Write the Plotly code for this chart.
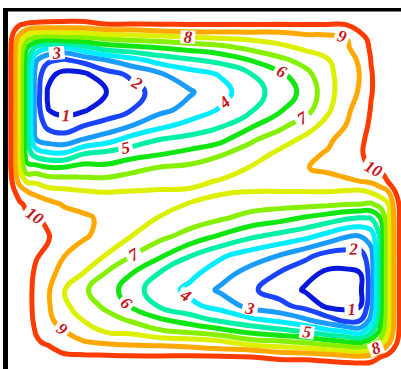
import plotly.graph_objects as go

# grid node positions (pixels of the 401x369 picture)
X_POS = [8, 14, 20, 27, 36, 48, 64, 84, 106, 130, 160, 190, 220, 250, 280, 305, 328, 346, 360, 371, 380, 388, 395, 400, 405]
Y_POS = [11, 17, 24, 31, 39, 48, 60, 74, 92, 110, 126, 140, 154, 168, 181, 192, 204, 218, 236, 256, 274, 290, 306, 320, 332, 342, 350, 357, 364, 373]

# field values, one list per x column (top -> bottom)
COL_008 = [10.6] * 30
COL_014 = [10.6, 10.45, 10.25, 10.02, 9.6, 9.4, 9.33, 9.33, 9.33, 9.33, 9.33, 9.33, 9.33, 9.35, 9.7, 10.1, 10.25, 10.3, 10.35, 10.35, 10.35, 10.35, 10.35, 10.35, 10.35, 10.38, 10.4, 10.45, 10.5, 10.6]
COL_020 = [10.6, 10.4, 10.1, 9.4, 8.4, 7.7, 7.5, 7.43, 7.43, 7.43, 7.43, 7.43, 7.45, 7.8, 8.55, 9.6, 10.1, 10.25, 10.3, 10.3, 10.28, 10.28, 10.28, 10.28, 10.3, 10.32, 10.36, 10.4, 10.48, 10.6]
COL_027 = [10.6, 10.35, 9.95, 8.7, 7.2, 6.02, 5.35, 5.17, 5.17, 5.17, 5.17, 5.2, 5.45, 6.3, 7.85, 9.05, 9.85, 10.15, 10.2, 10.2, 10.15, 10.15, 10.15, 10.15, 10.18, 10.22, 10.28, 10.32, 10.42, 10.6]
COL_036 = [10.6, 10.3, 9.9, 8.3, 6.6, 4.7, 3.1, 2.6, 2.5, 2.5, 2.55, 3.02, 4.6, 6.4, 7.8, 8.75, 9.6, 10.05, 10.1, 10.03, 9.93, 9.88, 9.88, 9.92, 9.98, 10.05, 10.15, 10.25, 10.4, 10.6]
COL_048 = [10.6, 10.3, 9.85, 8.25, 6.25, 4.02, 2.2, 1.25, 0.9, 1.02, 1.8, 2.6, 4.2, 6.1, 7.5, 8.35, 9.3, 9.85, 10.05, 9.9, 9.45, 9.12, 9.12, 9.2, 9.55, 9.93, 10.1, 10.2, 10.4, 10.6]
COL_064 = [10.6, 10.35, 9.8, 8.35, 6.45, 3.75, 1.9, 0.75, 0.4, 0.7, 1.55, 2.45, 4.15, 6.1, 7.4, 8.25, 8.9, 9.4, 9.55, 9.02, 8.45, 8.05, 8.2, 8.6, 9.05, 9.5, 9.9, 10.1, 10.35, 10.6]
COL_084 = [10.6, 10.35, 9.8, 8.4, 6.6, 4.6, 2.35, 0.85, 0.55, 0.9, 2.02, 3.1, 5.02, 6.4, 7.25, 8.1, 8.7, 9.15, 9.1, 8.55, 7.95, 7.1, 7.5, 7.95, 8.5, 9.05, 9.7, 10.15, 10.35, 10.6]
COL_106 = [10.6, 10.3, 10.02, 8.75, 6.98, 5.4, 2.98, 1.65, 0.95, 1.5, 2.33, 3.6, 5.3, 6.25, 7.27, 7.98, 8.55, 8.8, 8.7, 7.95, 6.9, 6.6, 6.8, 7.4, 7.98, 8.85, 9.55, 10.15, 10.35, 10.6]
COL_130 = [10.6, 10.3, 10.02, 8.8, 7.2, 5.67, 3.6, 2.15, 1.6, 1.95, 2.98, 4.4, 5.6, 6.67, 7.47, 8.05, 8.45, 8.4, 8.05, 7.05, 6.05, 5.45, 5.98, 6.9, 7.85, 8.7, 9.5, 10.1, 10.35, 10.6]
COL_160 = [10.6, 10.3, 10.02, 8.98, 7.4, 5.98, 4.43, 2.9, 2.4, 2.75, 3.77, 5.06, 5.94, 7.08, 7.64, 8.1, 8.2, 7.96, 7.27, 6.13, 4.9, 4.5, 4.9, 6.15, 7.2, 8.6, 9.45, 10.1, 10.35, 10.6]
COL_190 = [10.6, 10.3, 10.05, 9.15, 7.67, 6.29, 4.89, 3.57, 2.9, 3.33, 4.4, 5.33, 6.33, 7.25, 7.8, 8.1, 7.98, 7.5, 6.65, 5.02, 4.25, 3.75, 4.23, 5.5, 6.9, 8.5, 9.3, 10.15, 10.35, 10.6]
COL_220 = [10.6, 10.3, 10.05, 9.14, 7.86, 6.63, 5.3, 4.08, 3.6, 4.1, 4.9, 5.75, 6.9, 7.57, 8.05, 8.1, 7.65, 7.14, 5.9, 4.15, 3.4, 2.85, 3.67, 4.83, 6.43, 8.2, 9.14, 10.1, 10.35, 10.6]
COL_250 = [10.6, 10.3, 10.05, 9.15, 8.1, 7.2, 6.02, 4.95, 4.6, 4.85, 5.85, 6.85, 7.45, 8.05, 8.3, 7.98, 7.43, 6.67, 5.2, 3.5, 2.6, 2.15, 2.7, 4.25, 5.83, 7.4, 9.02, 10.02, 10.35, 10.6]
COL_280 = [10.6, 10.3, 10.05, 9.1, 8.4, 7.7, 6.77, 5.8, 5.4, 5.9, 6.78, 7.56, 8.25, 8.6, 8.4, 7.98, 7.33, 6.33, 4.7, 2.93, 1.9, 1.6, 2.27, 3.75, 5.4, 7.17, 8.6, 9.83, 10.3, 10.6]
COL_305 = [10.6, 10.3, 10.05, 9.25, 8.67, 8.17, 7.36, 6.7, 6.3, 6.6, 7.55, 8.25, 8.75, 8.95, 8.55, 7.98, 7.3, 5.9, 4.3, 2.25, 1.27, 0.9, 1.7, 3.15, 5.02, 6.85, 8.4, 9.8, 10.3, 10.6]
COL_328 = [10.6, 10.3, 10.05, 9.25, 8.76, 8.4, 7.95, 7.7, 7.6, 7.85, 8.37, 8.83, 9.1, 9.2, 8.65, 7.98, 7.2, 5.5, 3.67, 1.57, 0.8, 0.45, 0.8, 2.4, 4.4, 6.4, 8.02, 9.6, 10.25, 10.6]
COL_346 = [10.6, 10.3, 10.05, 9.5, 8.95, 8.8, 8.7, 8.62, 8.65, 8.8, 9.02, 9.4, 9.6, 9.45, 8.85, 7.87, 7.07, 5.14, 3.1, 1.5, 0.8, 0.5, 0.75, 1.7, 4.05, 6.02, 7.75, 9.33, 10.2, 10.6]
COL_360 = [10.6, 10.35, 10.25, 10.05, 9.77, 9.58, 9.1, 9.02, 9.08, 9.39, 9.65, 9.86, 9.94, 9.8, 9.02, 7.8, 7.02, 4.95, 3.02, 1.55, 0.95, 0.8, 0.95, 1.9, 3.6, 5.8, 7.5, 9.17, 10.15, 10.6]
COL_371 = [10.6, 10.4, 10.3, 10.25, 10.15, 10.1, 10.02, 9.95, 9.95, 10.05, 10.15, 10.2, 10.15, 10.02, 9.2, 8.05, 6.9, 5.05, 3.45, 2.6, 2.4, 2.4, 2.6, 3.25, 4.85, 6.5, 8.02, 9.4, 10.2, 10.6]
COL_380 = [10.6, 10.45, 10.4, 10.35, 10.3, 10.3, 10.3, 10.3, 10.3, 10.3, 10.3, 10.3, 10.25, 10.1, 9.6, 8.45, 7.35, 5.95, 5.1, 5.08, 5.08, 5.08, 5.1, 5.5, 6.2, 7.3, 8.6, 9.98, 10.3, 10.6]
COL_388 = [10.6, 10.5, 10.45, 10.4, 10.4, 10.4, 10.4, 10.4, 10.4, 10.4, 10.4, 10.4, 10.4, 10.3, 10.05, 8.9, 7.95, 7.6, 7.5, 7.5, 7.5, 7.5, 7.5, 7.6, 7.9, 8.7, 9.7, 10.2, 10.4, 10.6]
COL_395 = [10.6, 10.5, 10.5, 10.5, 10.5, 10.5, 10.5, 10.5, 10.5, 10.5, 10.5, 10.5, 10.5, 10.5, 10.35, 9.98, 9.5, 9.35, 9.3, 9.3, 9.3, 9.3, 9.3, 9.3, 9.45, 9.8, 10.15, 10.35, 10.45, 10.6]
COL_400 = [10.6, 10.55, 10.55, 10.55, 10.55, 10.55, 10.55, 10.55, 10.55, 10.55, 10.55, 10.55, 10.55, 10.55, 10.55, 10.3, 10.15, 10.1, 10.1, 10.1, 10.1, 10.1, 10.1, 10.1, 10.15, 10.25, 10.38, 10.45, 10.5, 10.6]
COL_405 = [10.6] * 30

Z_COLUMNS = [COL_008, COL_014, COL_020, COL_027, COL_036, COL_048, COL_064, COL_084,
             COL_106, COL_130, COL_160, COL_190, COL_220, COL_250, COL_280, COL_305,
             COL_328, COL_346, COL_360, COL_371, COL_380, COL_388, COL_395, COL_400, COL_405]

LEVELS = [1, 2, 3, 4, 5, 6, 7, 8, 9, 10]
LEVEL_COLORS = ["#0818dc", "#1a44ff", "#1a9cff", "#00ecff", "#00f0a8",
                "#12e612", "#86f000", "#dcf000", "#ffa800", "#ff3c00"]

lo, hi = LEVELS[0], LEVELS[-1]
colorscale = [[(lv - lo) / (hi - lo), c] for lv, c in zip(LEVELS, LEVEL_COLORS)]

fig = go.Figure(go.Contour(
    x=X_POS, y=Y_POS, z=Z_COLUMNS, transpose=True,
    zmin=lo, zmax=hi, autocontour=False,
    contours=dict(start=lo, end=hi, size=1, coloring="lines", showlabels=True,
                  labelfont=dict(family="Liberation Serif", size=17, color="#c4161c",
                                 weight="bold", style="italic")),
    line=dict(width=5, smoothing=1.3),
    colorscale=colorscale, showscale=False, hoverinfo="skip",
))

fig.update_layout(
    width=401, height=369,
    margin=dict(l=0, r=0, t=0, b=0),
    paper_bgcolor="white", plot_bgcolor="white",
    xaxis=dict(range=[0, 401], visible=False),
    yaxis=dict(range=[369, 0], visible=False),
    showlegend=False,
    shapes=[
        dict(type="rect", xref="x", yref="y", x0=3, x1=8, y0=8, y1=369,
             fillcolor="black", line=dict(width=0)),
        dict(type="rect", xref="x", yref="y", x0=3, x1=401, y0=8, y1=11.5,
             fillcolor="black", line=dict(width=0)),
    ],
)

fig.write_html("out.html", config={"displayModeBar": False},
               post_script="document.body.style.margin='0px';")
